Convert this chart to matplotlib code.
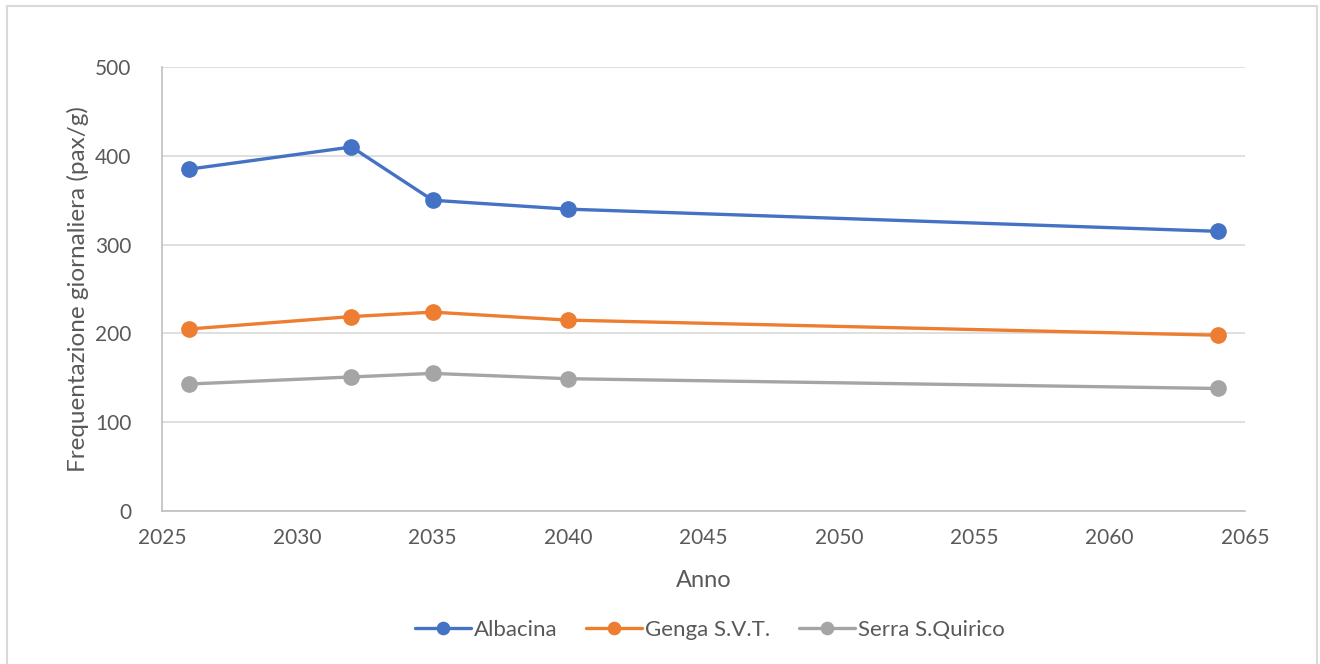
import matplotlib
matplotlib.use('Agg')
import matplotlib.pyplot as plt
from matplotlib.patches import Rectangle

plt.rcParams['font.family'] = ['Lato', 'DejaVu Sans']

anni = [2026, 2032, 2035, 2040, 2064]
albacina = [385, 410, 350, 340, 315]
genga = [205, 219, 224, 215, 198]
serra = [143, 151, 155, 149, 138]

serie = [
    ('Albacina', albacina, '#4472C4'),
    ('Genga S.V.T.', genga, '#ED7D31'),
    ('Serra S.Quirico', serra, '#A5A5A5'),
]

txt = '#595959'

fig = plt.figure(figsize=(13.2, 6.64), dpi=100)
ax = fig.add_axes([0.1227, 0.2304, 0.8205, 0.6686])

# bordo esterno del grafico
fig.patches.append(Rectangle((7 / 1320, -0.05), 1310 / 1320, 1.05 - 6 / 664,
                             transform=fig.transFigure, fill=False,
                             edgecolor='#d9d9d9', lw=1.5))

for nome, valori, col in serie:
    ax.plot(anni, valori, color=col, lw=2.4, marker='o', markersize=11,
            label=nome, solid_capstyle='round')

ax.set_xlim(2025, 2065)
ax.set_ylim(0, 500)
ax.set_xticks(range(2025, 2066, 5))
ax.set_yticks(range(0, 501, 100))
ax.grid(axis='y', color='#d9d9d9', lw=1.2)
ax.set_axisbelow(True)
for s in ['top', 'right']:
    ax.spines[s].set_visible(False)
for s in ['left', 'bottom']:
    ax.spines[s].set_color('#bfbfbf')
    ax.spines[s].set_linewidth(1.2)
ax.tick_params(length=0, labelsize=15, colors=txt, pad=12)
ax.tick_params(axis='y', pad=22)

ax.set_xlabel('Anno', fontsize=17, color=txt, labelpad=16)
ax.set_ylabel('Frequentazione giornaliera (pax/g)', fontsize=17.5, color=txt, labelpad=4)

ax.legend(loc='center', bbox_to_anchor=(0.506, -0.268), ncol=3, frameon=False,
          fontsize=16, labelcolor=txt, handlelength=2.5, handletextpad=0.15,
          columnspacing=1.3, markerscale=0.8)

fig.savefig('out.png', dpi=100)
